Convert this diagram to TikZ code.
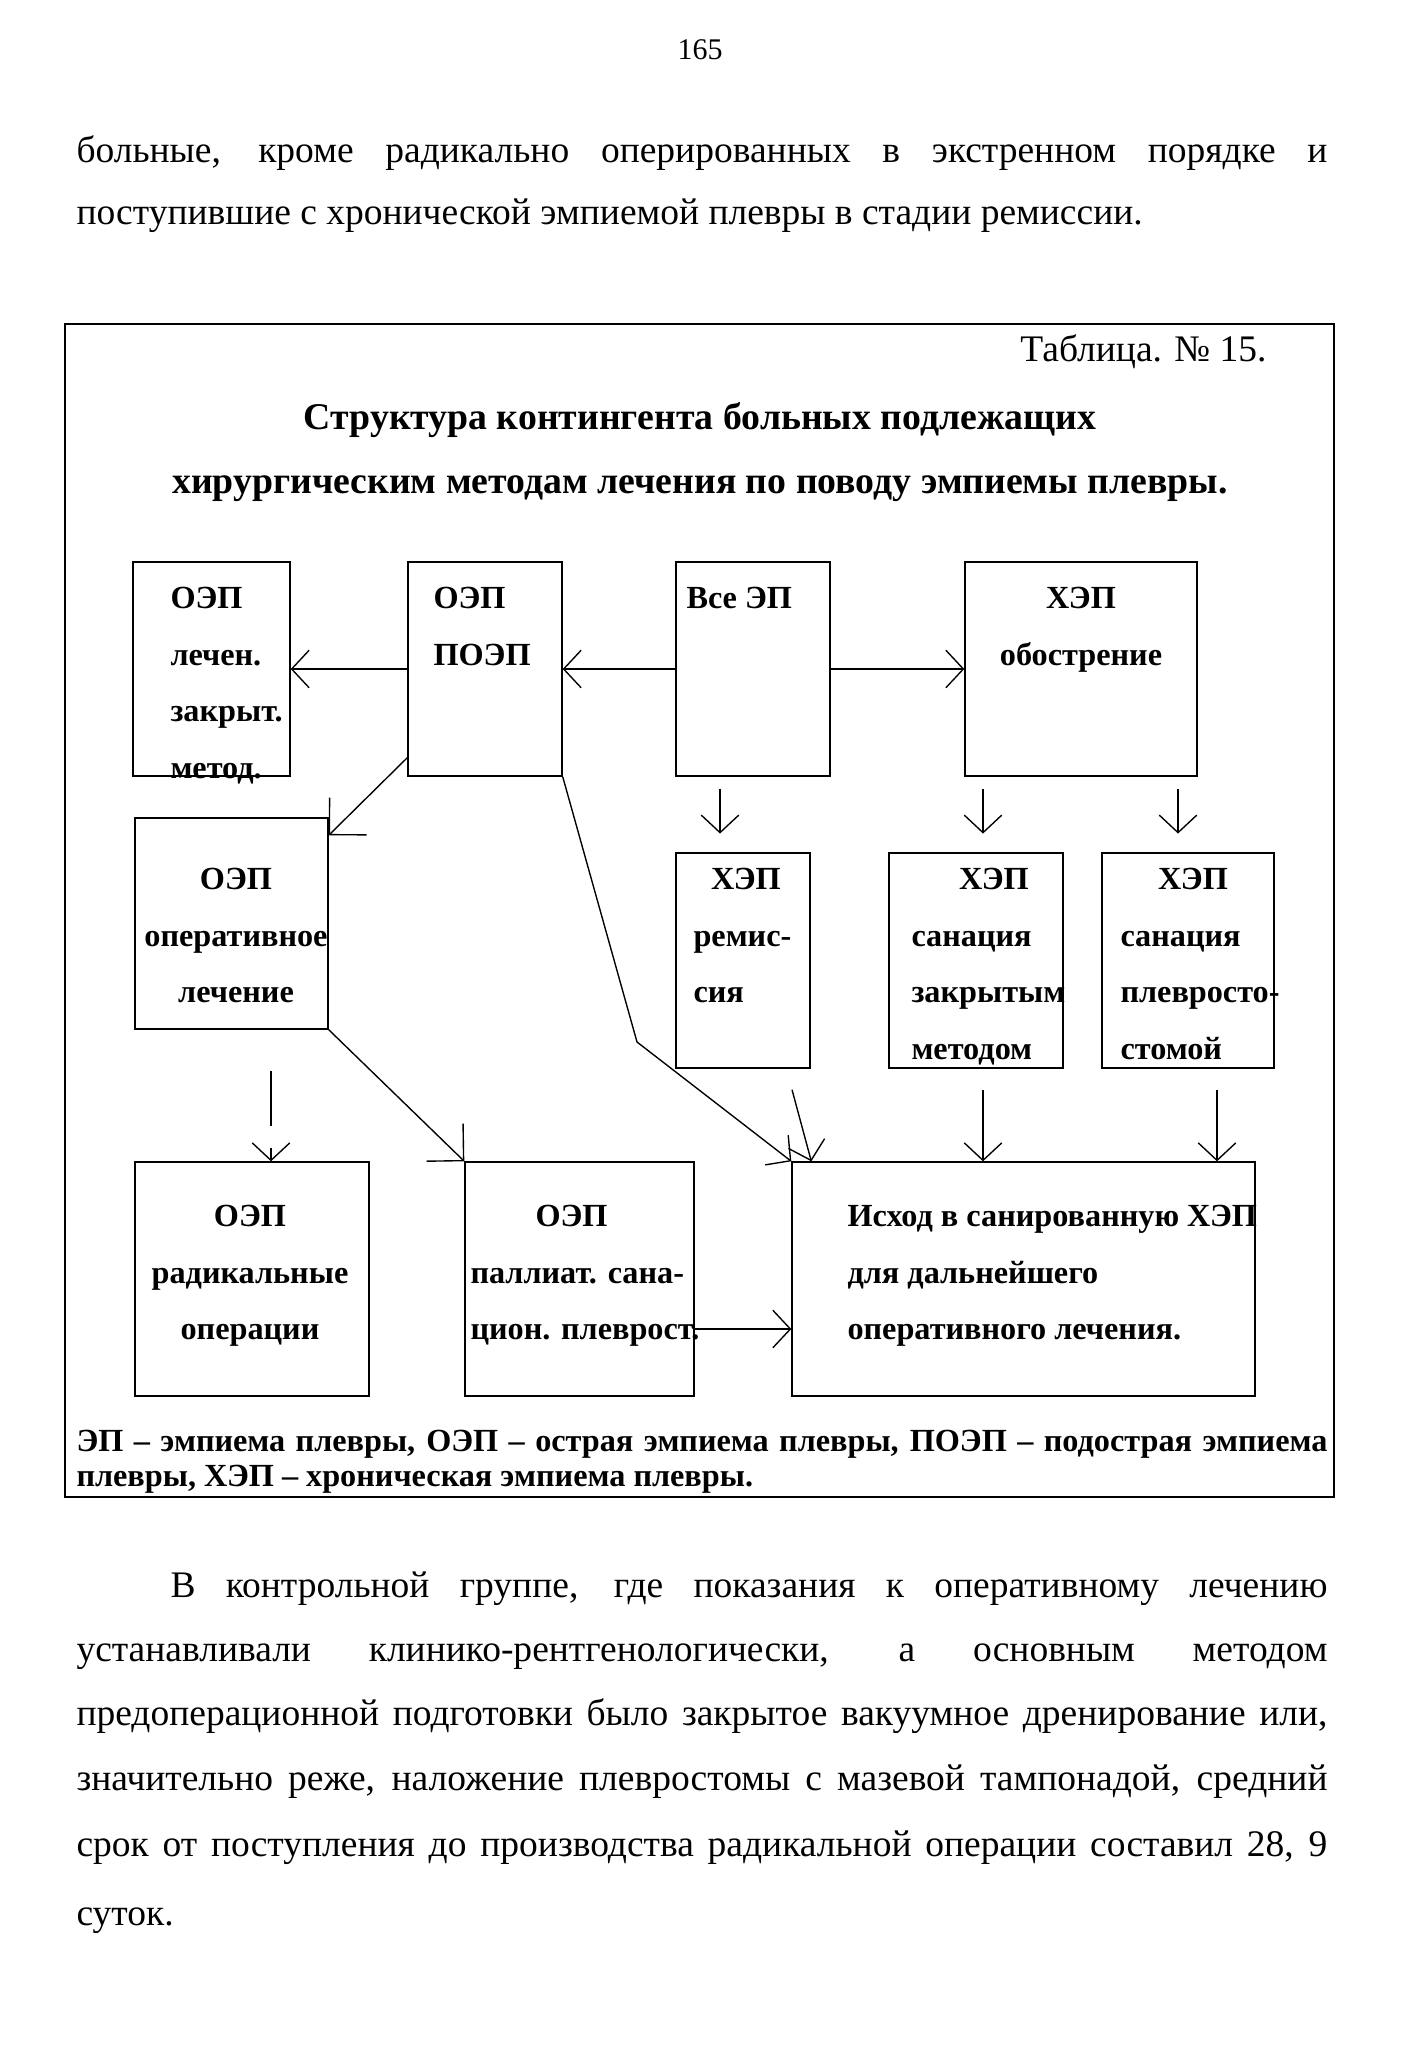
\documentclass[tikz,border=0pt]{standalone}
\usepackage{fontspec}
\setmainfont{Liberation Serif}
\usetikzlibrary{arrows.meta, positioning, fit, calc}

\begin{document}
\begin{tikzpicture}[
  x=0.4pt, y=-0.4pt,
  box/.style={draw, line width=0.55pt, inner sep=0pt, fit={#1}},
  boxtext/.style={font=\fontsize{12.9}{22.6}\selectfont\bfseries, inner sep=0pt},
  pagetext/.style={font=\fontsize{15}{25}\selectfont, inner sep=0pt, anchor=base west},
  legend/.style={font=\fontsize{12.9}{14}\selectfont\bfseries, inner sep=0pt, anchor=base west},
  arr/.style={-{Straight Barb[length=7pt, width=15pt]}, line width=0.55pt},
  bigarr/.style={-{Straight Barb[length=10.5pt, width=21pt]}, line width=0.55pt},
]
\path[use as bounding box, fill=white] (0,0) rectangle (1401,2050);

% text of the page above the table
\node[font=\fontsize{12}{14}\selectfont, inner sep=0pt] (pagenum) at (700,50) {165};
\node[pagetext] (par1a) at (76,163) {\makebox[500.4pt][s]{больные, кроме радикально оперированных в экстренном порядке и}};
\node[pagetext] (par1b) at (76,225) {поступившие с хронической эмпиемой плевры в стадии ремиссии.};

% frame and heading of the table
\node[box={(65,324) (1334,1497)}, line width=0.7pt] (frame) {};
\node[font=\fontsize{15}{16}\selectfont, inner sep=0pt, anchor=base east] (tabno) at (1267,362) {Таблица. № 15.};
\node[font=\fontsize{15.1}{16}\selectfont\bfseries, inner sep=0pt] (title1) at (700,420) {Структура контингента больных подлежащих};
\node[font=\fontsize{15.1}{16}\selectfont\bfseries, inner sep=0pt] (title2) at (700,489) {хирургическим методам лечения по поводу эмпиемы плевры.};

% boxes
\node[box={(133,562) (290,776)}] (oepclosed) {};
\node[box={(408,562) (562,776)}] (poep) {};
\node[box={(676,562) (830,776)}] (allep) {};
\node[box={(965,562) (1197,776)}] (hepexac) {};
\node[box={(135,818) (328,1029)}] (oepoper) {};
\node[box={(676,853) (810,1068)}] (hepremis) {};
\node[box={(889,853) (1063,1068)}] (hepclosed) {};
\node[box={(1102,853) (1274,1068)}] (hepstoma) {};
\node[box={(135,1162) (369,1396)}] (oeprad) {};
\node[box={(465,1162) (694,1396)}] (oeppall) {};
\node[box={(792,1162) (1255,1396)}] (outcome) {};

% texts of the boxes
\node[boxtext, align=left, anchor=north west] at (170,587) {ОЭП\\лечен.\\закрыт.\\метод.};
\node[boxtext, align=left, anchor=north west] at (433,587) {ОЭП\\ПОЭП};
\node[boxtext, align=left, anchor=north west] at (686,587) {Все ЭП};
\node[boxtext, align=center, anchor=north] at (1081,587) {ХЭП\\обострение};
\node[boxtext, align=center, anchor=north] at (236,868) {ОЭП\\оперативное\\лечение};
\node[boxtext, align=left, anchor=north west] at (693,868) {\hspace*{7pt}ХЭП\\ремис-\\сия};
\node[boxtext, align=left, anchor=north west] at (911,868) {\hspace*{19pt}ХЭП\\санация\\закрытым\\методом};
\node[boxtext, align=left, anchor=north west] at (1120,868) {\hspace*{15pt}ХЭП\\санация\\плевросто-\\стомой};
\node[boxtext, align=center, anchor=north] at (250,1205) {ОЭП\\радикальные\\операции};
\node[boxtext, align=left, anchor=north west] at (470,1205) {\hspace*{26pt}ОЭП\\паллиат. сана-\\цион. плеврост.};
\node[boxtext, align=left, anchor=north west] at (847,1205) {Исход в санированную ХЭП\\для дальнейшего\\оперативного лечения.};

% arrows
\draw[arr] (allep.west) -- (poep.east);
\draw[arr] (poep.west) -- (oepclosed.east);
\draw[arr] (allep.east) -- (hepexac.west);
\draw[bigarr] ($(poep.south west)+(0,-19)$) -- ($(oepoper.north east)+(0,18)$);
\coordinate (bend) at (637,1042);
\draw[arr] (poep.south east) -- (bend) -- (outcome.north west);
\draw[bigarr] (oepoper.south east) -- (oeppall.north west);
\draw[arr, shorten <=16.4pt, dash pattern=on 22pt off 8.8pt on 40pt] (271,0 |- oepoper.south) -- (271,0 |- oeprad.north);
\draw[arr, shorten <=4.8pt, shorten >=7.5pt] (720,0 |- allep.south) -- (720,0 |- hepremis.north);
\draw[arr, shorten <=4.8pt, shorten >=7.5pt] (983,0 |- hepexac.south) -- (983,0 |- hepclosed.north);
\draw[arr, shorten <=4.8pt, shorten >=7.5pt] (1178,0 |- hepexac.south) -- (1178,0 |- hepstoma.north);
\draw[arr] ($(hepremis.south)+(49,21)$) -- ($(outcome.north west)+(20,0)$);
\draw[arr, shorten <=8.4pt] (983,0 |- hepclosed.south) -- (983,0 |- outcome.north);
\draw[arr, shorten <=8.4pt] (1217,0 |- hepstoma.south) -- (1217,0 |- outcome.north);
\draw[arr] (oeppall.east |- 0,1329) -- (outcome.west |- 0,1329);

% legend
\node[legend] (leg1) at (76,1451) {\makebox[500.4pt][s]{ЭП – эмпиема плевры, ОЭП – острая эмпиема плевры, ПОЭП – подострая эмпиема}};
\node[legend] (leg2) at (76,1486) {плевры, ХЭП – хроническая эмпиема плевры.};

% text of the page below the table
\node[pagetext] (par2a) at (170,1597) {\makebox[462.8pt][s]{В контрольной группе, где показания к оперативному лечению}};
\node[pagetext] (par2b) at (76,1661) {\makebox[500.4pt][s]{устанавливали клинико-рентгенологически, а основным методом}};
\node[pagetext] (par2c) at (76,1725) {\makebox[500.4pt][s]{предоперационной подготовки было закрытое вакуумное дренирование или,}};
\node[pagetext] (par2d) at (76,1790) {\makebox[500.4pt][s]{значительно реже, наложение плевростомы с мазевой тампонадой, средний}};
\node[pagetext] (par2e) at (76,1856) {\makebox[500.4pt][s]{срок от поступления до производства радикальной операции составил 28, 9}};
\node[pagetext] (par2f) at (76,1925) {суток.};
\end{tikzpicture}
\end{document}
